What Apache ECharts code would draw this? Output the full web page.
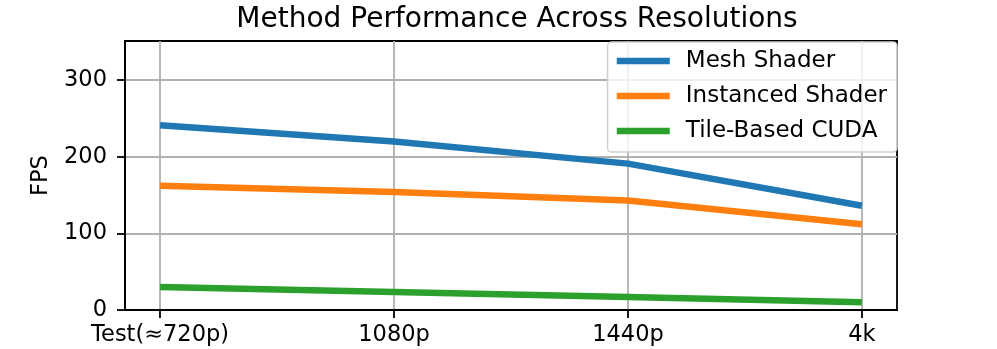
<!DOCTYPE html>
<html>
<head>
<meta charset="utf-8">
<script src="https://cdn.jsdelivr.net/npm/echarts@6/dist/echarts.min.js"></script>
<style>html,body{margin:0;padding:0;background:#fff}#c{width:997px;height:349px}</style>
</head>
<body>
<div id="c"></div>
<script>
const categories = ['Test(\u2248720p)', '1080p', '1440p', '4k'];
const meshShader = [241, 220, 191, 136];
const instancedShader = [162, 154, 143, 112];
const tileBasedCuda = [30, 23.5, 17, 10];
const yTicks = [0, 100, 200, 300];
const seriesNames = ['Mesh Shader', 'Instanced Shader', 'Tile-Based CUDA'];
const colors = ['#1f77b4', '#ff7f0e', '#2ca02c'];

const FONT = 'DejaVu Sans';
const toPairs = arr => arr.map((v, i) => [i, v]);
const xIdx = categories.map((_, i) => i);

const chart = echarts.init(document.getElementById('c'), null, {renderer: 'canvas'});
const lw = 6.5;
const mk = (name, data, color) => ({
  name, type: 'line', data: toPairs(data), symbol: 'none',
  lineStyle: {color, width: lw, cap: 'butt', join: 'round'},
  itemStyle: {color}, z: 3
});
chart.setOption({
  animation: false,
  textStyle: {fontFamily: FONT},
  title: {
    text: 'Method Performance Across Resolutions',
    left: 512, top: 1, textAlign: 'center',
    textStyle: {fontFamily: FONT, fontSize: 28, fontWeight: 'normal', color: '#000'}
  },
  grid: {left: 125, right: 100, top: 41, bottom: 39, show: true, borderColor: '#000', borderWidth: 1.8, backgroundColor: 'transparent'},
  legend: {
    orient: 'vertical', right: 100, top: 42,
    data: seriesNames,
    itemWidth: 53, itemHeight: 7, itemGap: 11,
    padding: [7, 10, 9, 6],
    backgroundColor: 'rgba(255,255,255,0.8)',
    borderColor: '#d0d0d0', borderWidth: 1.5, borderRadius: 4,
    textStyle: {fontFamily: FONT, fontSize: 23, color: '#000', lineHeight: 24, padding: [0, 0, 0, 11]},
    itemStyle: {borderWidth: 0},
    lineStyle: {width: lw, cap: 'butt'}
  },
  xAxis: {
    type: 'value', min: -0.15, max: 3.15,
    axisLine: {show: true, onZero: false, lineStyle: {color: '#000', width: 1.8}},
    axisTick: {show: true, customValues: xIdx, length: 8, lineStyle: {color: '#000', width: 1.8}},
    axisLabel: {customValues: xIdx, margin: 14, fontSize: 22.5, fontFamily: FONT, color: '#000',
      formatter: v => categories[Math.round(v)] || ''},
    splitLine: {show: true, lineStyle: {color: '#b0b0b0', width: 1.8}}
  },
  yAxis: {
    type: 'value', min: 0, max: 351,
    name: 'FPS', nameLocation: 'middle', nameGap: 72, nameRotate: 90,
    nameTextStyle: {fontFamily: FONT, fontSize: 22.5, color: '#000'},
    axisLine: {show: true, onZero: false, lineStyle: {color: '#000', width: 1.8}},
    axisTick: {show: true, customValues: yTicks, length: 8, lineStyle: {color: '#000', width: 1.8}},
    axisLabel: {customValues: yTicks, margin: 18, fontSize: 22.5, fontFamily: FONT, color: '#000'},
    splitLine: {show: true, lineStyle: {color: '#b0b0b0', width: 1.8}}
  },
  series: [
    mk(seriesNames[0], meshShader, colors[0]),
    mk(seriesNames[1], instancedShader, colors[1]),
    mk(seriesNames[2], tileBasedCuda, colors[2])
  ]
});
</script>
</body>
</html>
